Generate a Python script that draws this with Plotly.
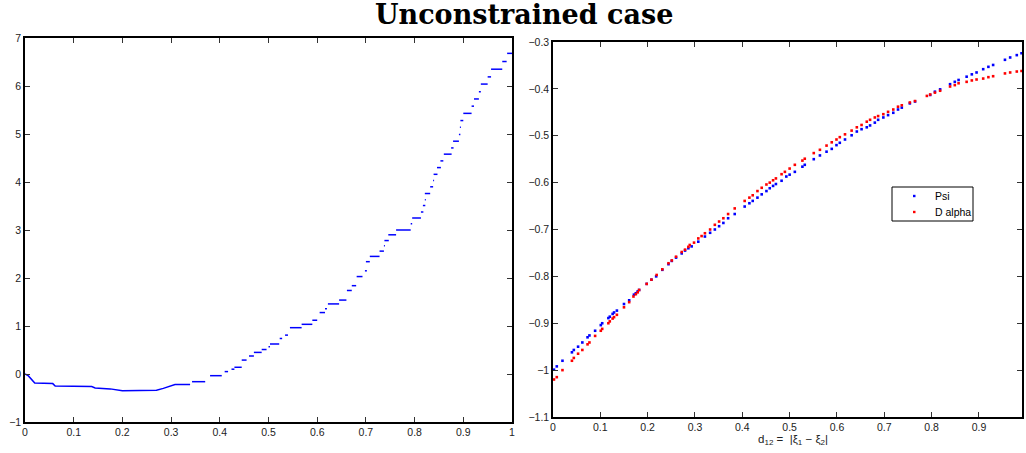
import plotly.graph_objects as go

# ---------------- Left panel data (stepped curve) ----------------
# continuous initial part
left_curve_x = [0, 0.007, 0.02, 0.057, 0.062, 0.137, 0.144, 0.175, 0.2, 0.27, 0.284, 0.298, 0.308, 0.339]
left_curve_y = [0.0, -0.04, -0.19, -0.2, -0.25, -0.26, -0.29, -0.31, -0.35, -0.34, -0.3, -0.26, -0.22, -0.22]
# horizontal step segments: start x, end x, level
step_x0 = [0.343, 0.38, 0.41, 0.424, 0.43, 0.445, 0.46, 0.47, 0.486, 0.5, 0.503, 0.523, 0.534,
           0.544, 0.568, 0.59, 0.605, 0.616, 0.622, 0.645, 0.661, 0.671, 0.681, 0.698, 0.7,
           0.708, 0.728, 0.737, 0.738, 0.746, 0.762, 0.792, 0.795, 0.813, 0.817, 0.821, 0.821,
           0.832, 0.838, 0.839, 0.846, 0.853, 0.86, 0.875, 0.879, 0.891, 0.893, 0.894, 0.9,
           0.917, 0.922, 0.932, 0.936, 0.95, 0.957, 0.98, 0.99]
step_x1 = [0.37, 0.404, 0.417, 0.43, 0.445, 0.455, 0.47, 0.486, 0.496, 0.503, 0.522, 0.528, 0.54,
           0.568, 0.59, 0.6, 0.616, 0.62, 0.645, 0.66, 0.671, 0.68, 0.693, 0.702, 0.708,
           0.728, 0.737, 0.739, 0.747, 0.762, 0.792, 0.795, 0.813, 0.818, 0.822, 0.823, 0.832,
           0.838, 0.84, 0.847, 0.854, 0.859, 0.876, 0.88, 0.891, 0.894, 0.895, 0.9, 0.917,
           0.922, 0.932, 0.936, 0.95, 0.957, 0.98, 0.989, 1.0]
step_y = [-0.16, -0.035, 0.05, 0.1, 0.14, 0.29, 0.375, 0.45, 0.51, 0.57, 0.625, 0.74, 0.81,
          0.965, 1.035, 1.12, 1.28, 1.36, 1.46, 1.54, 1.74, 1.84, 2.03, 2.15, 2.34,
          2.45, 2.56, 2.67, 2.78, 2.9, 3.0, 3.13, 3.25, 3.375, 3.51, 3.63, 3.76,
          3.9, 4.03, 4.16, 4.3, 4.44, 4.58, 4.71, 4.85, 4.99, 5.14, 5.28, 5.43,
          5.58, 5.73, 5.88, 6.04, 6.19, 6.35, 6.51, 6.68]

# ---------------- Right panel data ----------------
psi_x = [0.002, 0.008, 0.02, 0.04, 0.044, 0.053, 0.062, 0.073, 0.077, 0.089, 0.101, 0.104,
         0.117, 0.12, 0.126, 0.129, 0.135, 0.15, 0.161, 0.171, 0.175, 0.179, 0.182, 0.198,
         0.208, 0.218, 0.231, 0.244, 0.251, 0.26, 0.272, 0.279, 0.286, 0.293, 0.307, 0.321,
         0.332, 0.342, 0.351, 0.36, 0.37, 0.384, 0.405, 0.415, 0.422, 0.432, 0.441, 0.451,
         0.458, 0.465, 0.471, 0.483, 0.493, 0.5, 0.511, 0.527, 0.532, 0.551, 0.564, 0.578,
         0.589, 0.599, 0.606, 0.617, 0.631, 0.642, 0.652, 0.663, 0.67, 0.68, 0.687, 0.698,
         0.708, 0.719, 0.729, 0.737, 0.754, 0.765, 0.797, 0.807, 0.818, 0.839, 0.849, 0.857,
         0.874, 0.885, 0.895, 0.909, 0.92, 0.93, 0.955, 0.966, 0.98, 0.99]
psi_y = [-0.999, -0.992, -0.98, -0.962, -0.957, -0.95, -0.941, -0.93, -0.926, -0.916, -0.904, -0.9,
         -0.889, -0.886, -0.88, -0.877, -0.873, -0.859, -0.851, -0.839, -0.836, -0.832, -0.829, -0.816,
         -0.807, -0.8, -0.786, -0.774, -0.767, -0.76, -0.751, -0.745, -0.74, -0.736, -0.726, -0.715,
         -0.707, -0.7, -0.693, -0.686, -0.676, -0.667, -0.651, -0.644, -0.639, -0.632, -0.625, -0.618,
         -0.612, -0.607, -0.603, -0.596, -0.587, -0.583, -0.577, -0.566, -0.562, -0.55, -0.542, -0.534,
         -0.528, -0.52, -0.515, -0.508, -0.499, -0.491, -0.486, -0.482, -0.478, -0.472, -0.466, -0.461,
         -0.456, -0.451, -0.444, -0.44, -0.431, -0.427, -0.413, -0.406, -0.401, -0.39, -0.385, -0.381,
         -0.374, -0.369, -0.365, -0.358, -0.353, -0.349, -0.338, -0.333, -0.328, -0.324]

dalpha_x = [0.002, 0.008, 0.02, 0.04, 0.044, 0.053, 0.062, 0.073, 0.077, 0.089, 0.101, 0.104,
            0.117, 0.12, 0.126, 0.129, 0.135, 0.15, 0.161, 0.17, 0.175, 0.179, 0.182, 0.198,
            0.208, 0.219, 0.231, 0.244, 0.251, 0.26, 0.272, 0.279, 0.286, 0.289, 0.298, 0.307,
            0.314, 0.321, 0.332, 0.342, 0.351, 0.36, 0.37, 0.384, 0.405, 0.415, 0.422, 0.432,
            0.441, 0.451, 0.458, 0.465, 0.471, 0.483, 0.49, 0.5, 0.511, 0.527, 0.532, 0.551,
            0.564, 0.578, 0.589, 0.599, 0.606, 0.617, 0.631, 0.642, 0.652, 0.663, 0.67, 0.68,
            0.687, 0.698, 0.708, 0.719, 0.729, 0.737, 0.754, 0.765, 0.79, 0.797, 0.807, 0.818,
            0.839, 0.849, 0.857, 0.874, 0.885, 0.895, 0.909, 0.92, 0.93, 0.955, 0.966, 0.98, 0.99]
dalpha_y = [-1.02, -1.015, -1.0, -0.98, -0.974, -0.965, -0.957, -0.945, -0.941, -0.927, -0.916, -0.912,
            -0.9, -0.896, -0.89, -0.887, -0.882, -0.866, -0.855, -0.843, -0.838, -0.834, -0.829, -0.816,
            -0.807, -0.797, -0.785, -0.772, -0.766, -0.758, -0.748, -0.743, -0.737, -0.733, -0.728, -0.719,
            -0.714, -0.708, -0.7, -0.69, -0.683, -0.676, -0.667, -0.655, -0.639, -0.632, -0.627, -0.618,
            -0.611, -0.604, -0.6, -0.595, -0.591, -0.582, -0.577, -0.57, -0.562, -0.553, -0.549, -0.537,
            -0.53, -0.521, -0.514, -0.508, -0.503, -0.497, -0.489, -0.482, -0.477, -0.47, -0.466, -0.461,
            -0.458, -0.454, -0.449, -0.444, -0.438, -0.435, -0.429, -0.426, -0.415, -0.412, -0.408, -0.404,
            -0.395, -0.392, -0.388, -0.385, -0.382, -0.38, -0.378, -0.375, -0.373, -0.367, -0.365, -0.363, -0.362]

series_names = ["Psi", "D alpha"]
series_colors = ["#0000ff", "#ff0000"]

left_xticks = [0, 0.1, 0.2, 0.3, 0.4, 0.5, 0.6, 0.7, 0.8, 0.9, 1]
left_yticks = [-1, 0, 1, 2, 3, 4, 5, 6, 7]
right_xticks = [0, 0.1, 0.2, 0.3, 0.4, 0.5, 0.6, 0.7, 0.8, 0.9]
right_yticks = [-1.1, -1, -0.9, -0.8, -0.7, -0.6, -0.5, -0.4, -0.3]

W, H = 1026, 453

# build segment polyline for steps
seg_x, seg_y = [], []
for a, b, y in zip(step_x0, step_x1, step_y):
    seg_x += [a, b, None]
    seg_y += [y, y, None]

fig = go.Figure()
fig.add_trace(go.Scatter(x=left_curve_x, y=left_curve_y, mode="lines",
                         line=dict(color="#0000ff", width=1.5), showlegend=False,
                         xaxis="x", yaxis="y"))
fig.add_trace(go.Scatter(x=seg_x, y=seg_y, mode="lines",
                         line=dict(color="#0000ff", width=1.5), showlegend=False,
                         connectgaps=False, xaxis="x", yaxis="y"))
for nm, col, xs, ys in zip(series_names, series_colors, [psi_x, dalpha_x], [psi_y, dalpha_y]):
    fig.add_trace(go.Scatter(x=xs, y=ys, mode="markers", name=nm,
                             marker=dict(color=col, size=2.6, symbol="square", line=dict(width=0)),
                             showlegend=False, xaxis="x2", yaxis="y2"))

tickfont = dict(family="Liberation Sans, Arial, sans-serif", size=10.5, color="#222222")
common = dict(showgrid=False, zeroline=False, showline=True, linecolor="black", linewidth=1.5,
              ticks="inside", ticklen=5, tickcolor="#333333", tickwidth=1, mirror="ticks",
              tickfont=tickfont, automargin=False)

def px(x):
    return x / W

def py(y):
    return 1 - y / H

# legend box (drawn manually to match the compact MATLAB legend)
shapes = [dict(type="rect", xref="paper", yref="paper", x0=px(892), x1=px(973), y0=py(221), y1=py(187),
               line=dict(color="black", width=1), fillcolor="white", layer="above")]
annotations = [
    dict(text="<b>Unconstrained case</b>", x=px(524), y=py(15), xref="paper", yref="paper",
         showarrow=False, xanchor="center", yanchor="middle",
         font=dict(family="DejaVu Serif, serif", size=27, color="black")),
    dict(text="d<sub>12</sub> =  |\u03be<sub>1</sub> \u2212 \u03be<sub>2</sub>|",
         x=px(793), y=py(440), xref="paper", yref="paper", showarrow=False,
         xanchor="center", yanchor="middle",
         font=dict(family="Liberation Sans, Arial, sans-serif", size=11.5, color="#222222")),
]
for i, (nm, col) in enumerate(zip(series_names, series_colors)):
    yc = 196 + i * 16
    shapes.append(dict(type="rect", xref="paper", yref="paper", x0=px(913), x1=px(915.5),
                       y0=py(yc + 1.2), y1=py(yc - 1.2), line=dict(width=0), fillcolor=col, layer="above"))
    annotations.append(dict(text=nm, x=px(933), y=py(yc), xref="paper", yref="paper",
                            showarrow=False, xanchor="left", yanchor="middle",
                            font=dict(family="Liberation Sans, Arial, sans-serif", size=10.5, color="black")))

fig.update_layout(
    width=W, height=H,
    margin=dict(l=0, r=0, t=0, b=0),
    paper_bgcolor="white", plot_bgcolor="white",
    xaxis=dict(domain=[25 / W, 512 / W], range=[0, 1], tickvals=left_xticks,
               ticktext=[f"{v:g}" for v in left_xticks], anchor="y", **common),
    yaxis=dict(domain=[1 - 422 / H, 1 - 38 / H], range=[-1, 7], tickvals=left_yticks,
               anchor="x", **common),
    xaxis2=dict(domain=[553 / W, 1022 / W], range=[0, 0.991], tickvals=right_xticks,
                ticktext=[f"{v:g}" for v in right_xticks], anchor="y2", **common),
    yaxis2=dict(domain=[1 - 417 / H, 1 - 42 / H], range=[-1.1, -0.3], tickvals=right_yticks,
                ticktext=[f"{v:g}".replace("-", "\u2212") for v in right_yticks], anchor="x2", **common),
    showlegend=False,
    shapes=shapes,
    annotations=annotations,
)

fig.write_html("out.html")
